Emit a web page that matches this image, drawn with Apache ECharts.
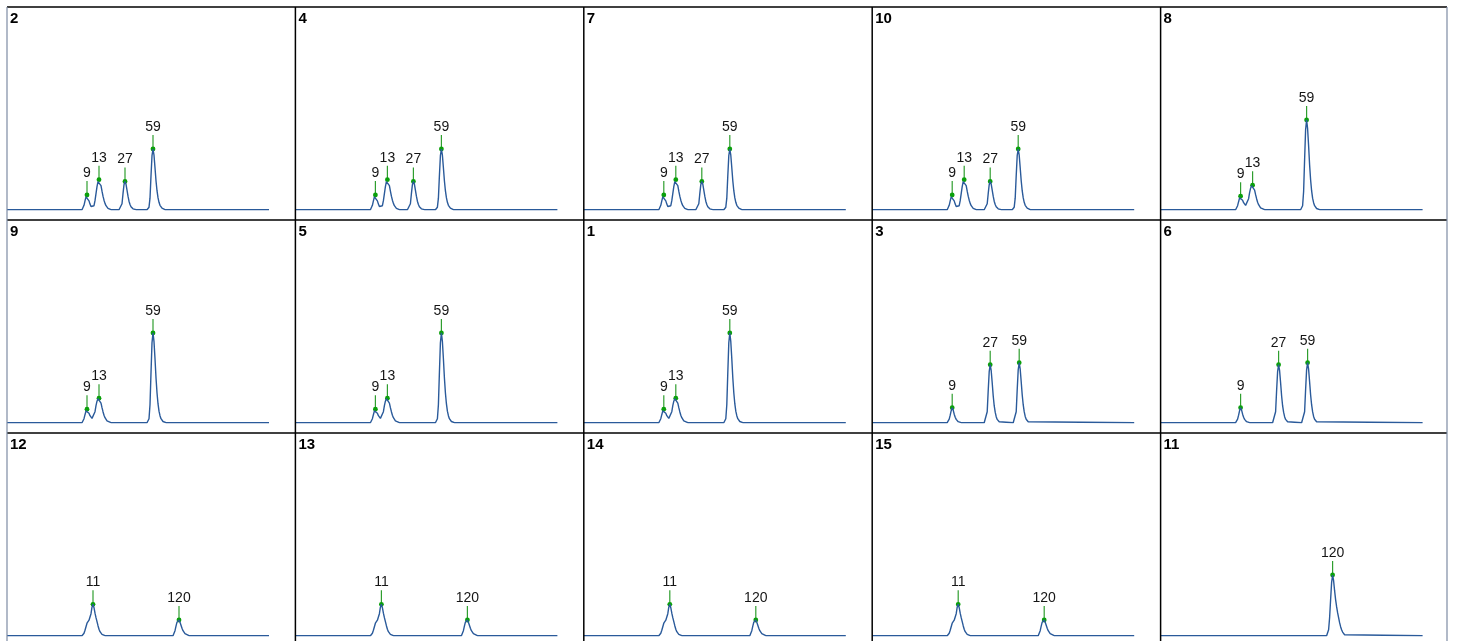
<!DOCTYPE html>
<html>
<head>
<meta charset="utf-8">
<script src="https://cdn.jsdelivr.net/npm/echarts@6/dist/echarts.min.js"></script>
<style>
html,body{margin:0;padding:0;background:#fff;}
#chart{width:1457px;height:641px;}
</style>
</head>
<body>
<div id="chart"></div>
<script>
// Panel titles in row-major order (3 rows x 5 columns)
const panelTitles = ['2','4','7','10','8','9','5','1','3','6','12','13','14','15','11'];
// Which trace each panel shows
const panelTraces = ['A','A','A','A','B','B','B','B','D','D','E','E','E','E','F'];

// Traces: [scan, intensity]
const traceA = [[0,0],[75,0],[76,1.2],[77,4.4],[78,8.8],[79,12.9],[80,14.7],[81,12.5],[82,8.8],[83,5.6],[84,3.2],[85,2.2],[86,1.8],[87,4],[88,9],[89,16],[90,23],[91,28],[92,30],[93,28.5],[94,24],[95,18.5],[96,13.5],[97,9.5],[98,6.3],[99,4],[100,2.4],[101,1.3],[102,0.6],[104,0],[112,0],[113,0.5],[114,1.8],[115,6],[116,16],[117,25],[118,28.3],[119,25.5],[120,19.5],[121,13.5],[122,8.5],[123,5.2],[124,3],[125,1.7],[126,0.9],[127,0.4],[129,0],[140,0],[141,0.6],[142,2.5],[143,11.5],[144,34],[145,54],[146,60.7],[147,54.5],[148,42],[149,29],[150,19],[151,12],[152,7.4],[153,4.4],[154,2.6],[155,1.5],[156,0.8],[158,0],[262,0]];
const traceB = [[0,0],[75,0],[76,1.2],[77,4],[78,8],[79,11.8],[80,13.5],[81,12.2],[82,9.5],[83,7],[84,5.3],[85,4.3],[86,4],[87,6],[88,11],[89,17],[90,21.5],[91,24],[92,24.5],[93,23],[94,19.5],[95,15],[96,11],[97,7.5],[98,5],[99,3],[100,1.8],[101,1],[102,0.5],[104,0],[140,0],[141,0.8],[142,4],[143,18],[144,50],[145,80],[146,89.8],[147,81],[148,64],[149,45],[150,30],[151,19],[152,11.5],[153,7],[154,4],[155,2.3],[156,1.2],[157,0.6],[159,0],[262,0]];
const traceD = [[0,0],[75,0],[76,1],[77,3.5],[78,7.5],[79,12],[80,15],[81,12.5],[82,8.5],[83,5.5],[84,3.3],[85,1.9],[86,1],[87,0.5],[89,0],[112,0],[113,0.5],[114,2],[115,11],[116,32],[117,51],[118,58],[119,52],[120,40],[121,27],[122,17],[123,10.5],[124,6],[125,3.3],[126,1.8],[127,0.9],[129,0],[141,0],[142,0.5],[143,2],[144,11],[145,33],[146,52.8],[147,60],[148,53.5],[149,41],[150,28],[151,18],[152,11],[153,6.3],[154,3.5],[155,1.9],[156,1],[158,0],[262,0]];
const traceE = [[0,0],[75,0],[76,0.8],[77,2.5],[78,5.5],[79,9],[80,12.5],[81,14.5],[82,15.5],[83,17],[84,22],[85,28.5],[86,31.4],[87,28],[88,22.5],[89,18],[90,14],[91,10],[92,6.5],[93,4],[94,2.4],[95,1.3],[96,0.6],[98,0],[166,0],[167,1.5],[168,5],[169,9.5],[170,13.5],[171,15.2],[172,15.7],[173,13.5],[174,10.5],[175,7.5],[176,5],[177,3.2],[178,2],[179,1.1],[180,0.5],[182,0],[262,0]];
const traceF = [[0,0],[166,0],[167,1.5],[168,6],[169,18],[170,36],[171,53],[172,60.7],[173,55],[174,45],[175,36],[176,29],[177,23],[178,18],[179,13],[180,9],[181,6],[182,3.6],[183,2],[184,1],[186,0],[262,0]];

// Called peaks: [scan, intensity, label]
const peaksA = [[80,14.7,'9'],[92,30,'13'],[118,28.3,'27'],[146,60.7,'59']];
const peaksB = [[80,13.5,'9'],[92,24.5,'13'],[146,89.8,'59']];
const peaksD = [[80,15,'9'],[118,58,'27'],[147,60,'59']];
const peaksE = [[86,31.4,'11'],[172,15.7,'120']];
const peaksF = [[172,60.7,'120']];

const xRange = [0, 262];
const yRange = [0, 200];

const traces = {A: traceA, B: traceB, D: traceD, E: traceE, F: traceF};
const peaks = {A: peaksA, B: peaksB, D: peaksD, E: peaksE, F: peaksF};

const COLS = 5, ROWS = 3;
const colStep = 288.4, rowStep = 213, originX = 7, originY = 7;
const FONT = '"Liberation Sans", Arial, sans-serif';

const grids = [], xAxes = [], yAxes = [], series = [], titles = [];
panelTitles.forEach((t, i) => {
  const r = Math.floor(i / COLS), c = i % COLS;
  const left = originX + c * colStep;
  const top = originY + r * rowStep;
  grids.push({left: left, top: top + 2.7, width: 262, height: 200, containLabel: false});
  xAxes.push({type: 'value', gridIndex: i, min: xRange[0], max: xRange[1], show: false});
  yAxes.push({type: 'value', gridIndex: i, min: yRange[0], max: yRange[1], show: false});
  titles.push({text: t, left: left + 3, top: top + 4, padding: 0,
    textStyle: {fontSize: 15, fontWeight: 'bold', fontFamily: FONT, color: '#000'}});
  const key = panelTraces[i];
  series.push({
    type: 'line', xAxisIndex: i, yAxisIndex: i, data: traces[key],
    showSymbol: false, smooth: false, animation: false, silent: true,
    lineStyle: {color: '#2a5a9a', width: 1.4}
  });
  series.push({
    type: 'custom', xAxisIndex: i, yAxisIndex: i, data: peaks[key],
    animation: false, silent: true, clip: false,
    encode: {x: 0, y: 1},
    renderItem: function (params, api) {
      const p = api.coord([api.value(0), api.value(1)]);
      const lbl = peaks[key][params.dataIndex][2];
      return {type: 'group', children: [
        {type: 'line', shape: {x1: p[0], y1: p[1], x2: p[0], y2: p[1] - 14},
         style: {stroke: '#2f9e2f', lineWidth: 1.2}},
        {type: 'circle', shape: {cx: p[0], cy: p[1], r: 2.4},
         style: {fill: '#0aa00a'}},
        {type: 'text', x: p[0], y: p[1] - 15,
         style: {text: lbl, fill: '#151515', font: '14px ' + FONT,
                 textAlign: 'center', textVerticalAlign: 'bottom'}}
      ]};
    }
  });
});

const graphic = [];
const rightEdge = originX + COLS * colStep - 2;
graphic.push({type: 'line', shape: {x1: originX, y1: originY, x2: rightEdge, y2: originY},
  style: {stroke: '#000', lineWidth: 1.5}, z: 100});
for (let c = 1; c < COLS; c++) {
  const x = originX + c * colStep;
  graphic.push({type: 'line', shape: {x1: x, y1: originY, x2: x, y2: 641},
    style: {stroke: '#000', lineWidth: 1.5}, z: 100});
}
for (let r = 1; r < ROWS; r++) {
  const y = originY + r * rowStep;
  graphic.push({type: 'line', shape: {x1: originX, y1: y, x2: rightEdge, y2: y},
    style: {stroke: '#000', lineWidth: 1.5}, z: 100});
}
graphic.push({type: 'line', shape: {x1: originX, y1: originY, x2: originX, y2: 641},
  style: {stroke: '#7d8ba3', lineWidth: 1.2}, z: 100});
graphic.push({type: 'line', shape: {x1: rightEdge, y1: originY, x2: rightEdge, y2: 641},
  style: {stroke: '#7d8ba3', lineWidth: 1.2}, z: 100});

const chart = echarts.init(document.getElementById('chart'), null, {renderer: 'canvas'});
chart.setOption({
  backgroundColor: '#fff',
  animation: false,
  title: titles,
  grid: grids,
  xAxis: xAxes,
  yAxis: yAxes,
  series: series,
  graphic: graphic
});
</script>
</body>
</html>
